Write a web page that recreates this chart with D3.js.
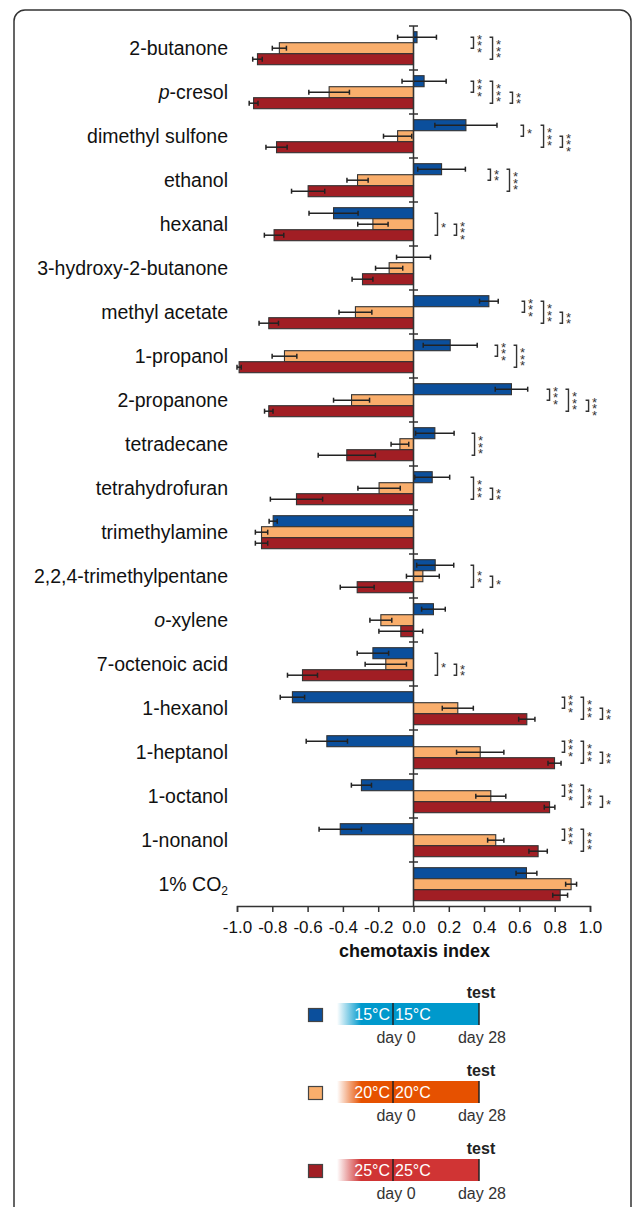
<!DOCTYPE html>
<html>
<head>
<meta charset="utf-8">
<script src="https://cdn.jsdelivr.net/npm/d3@7"></script>
<style>
  body { margin: 0; background: #fff; }
  text { font-family: "Liberation Sans", Arial, sans-serif; }
</style>
</head>
<body>
<div id="chart"></div>
<script>
const CATEGORIES = ['2-butanone', 'p-cresol', 'dimethyl sulfone', 'ethanol', 'hexanal',
                    '3-hydroxy-2-butanone', 'methyl acetate', '1-propanol', '2-propanone',
                    'tetradecane', 'tetrahydrofuran', 'trimethylamine', '2,2,4-trimethylpentane',
                    'o-xylene', '7-octenoic acid', '1-hexanol', '1-heptanol', '1-octanol',
                    '1-nonanol', '1% CO2'];
const SERIES = ['15°C', '20°C', '25°C'];

// chemotaxis index (mean) and error for each temperature
const MEAN_15 = [0.02, 0.06, 0.297, 0.159, -0.453, 0.0, 0.427, 0.208, 0.555, 0.121,
                 0.106, -0.795, 0.123, 0.113, -0.23, -0.686, -0.491, -0.295, -0.415, 0.64];
const ERR_15  = [0.11, 0.125, 0.176, 0.135, 0.139, 0.096, 0.053, 0.153, 0.092, 0.109,
                 0.099, 0.023, 0.105, 0.067, 0.089, 0.069, 0.117, 0.057, 0.12, 0.059];
const MEAN_20 = [-0.76, -0.478, -0.09, -0.317, -0.23, -0.138, -0.329, -0.731, -0.351, -0.077,
                 -0.195, -0.861, 0.053, -0.185, -0.157, 0.251, 0.378, 0.438, 0.466, 0.893];
const ERR_20  = [0.04, 0.115, 0.08, 0.06, 0.086, 0.077, 0.093, 0.07, 0.102, 0.05,
                 0.12, 0.035, 0.093, 0.062, 0.117, 0.088, 0.134, 0.085, 0.046, 0.031];
const MEAN_25 = [-0.884, -0.906, -0.776, -0.597, -0.79, -0.289, -0.82, -0.988, -0.82, -0.378,
                 -0.663, -0.861, -0.319, -0.072, -0.629, 0.642, 0.799, 0.771, 0.706, 0.831];
const ERR_25  = [0.027, 0.025, 0.06, 0.094, 0.055, 0.059, 0.055, 0.012, 0.024, 0.162,
                 0.148, 0.035, 0.096, 0.124, 0.085, 0.046, 0.037, 0.03, 0.052, 0.042];

const X_TICKS = [-1.0, -0.8, -0.6, -0.4, -0.2, 0.0, 0.2, 0.4, 0.6, 0.8, 1.0];

// significance: [category index, series from, series to, bracket position (index units), stars]
const SIGNIFICANCE = [
  [0, 0, 1, 0.34, 3], [0, 0, 2, 0.448, 3],
  [1, 0, 1, 0.34, 3], [1, 0, 2, 0.448, 3], [1, 1, 2, 0.561, 2],
  [2, 0, 1, 0.623, 1], [2, 0, 2, 0.737, 3], [2, 1, 2, 0.844, 3],
  [3, 0, 1, 0.436, 2], [3, 0, 2, 0.544, 3],
  [4, 0, 2, 0.136, 1], [4, 1, 2, 0.244, 3],
  [6, 0, 1, 0.629, 3], [6, 0, 2, 0.737, 3], [6, 1, 2, 0.844, 2],
  [7, 0, 1, 0.476, 3], [7, 0, 2, 0.584, 3],
  [8, 0, 1, 0.771, 3], [8, 0, 2, 0.878, 3], [8, 1, 2, 0.992, 3],
  [9, 0, 2, 0.346, 3],
  [10, 0, 2, 0.34, 3], [10, 1, 2, 0.448, 2],
  [12, 0, 2, 0.34, 2], [12, 1, 2, 0.448, 1],
  [14, 0, 2, 0.136, 1], [14, 1, 2, 0.244, 2],
  [15, 0, 1, 0.856, 3], [15, 0, 2, 0.963, 3], [15, 1, 2, 1.071, 2],
  [16, 0, 1, 0.856, 3], [16, 0, 2, 0.963, 3], [16, 1, 2, 1.071, 2],
  [17, 0, 1, 0.856, 3], [17, 0, 2, 0.963, 3], [17, 1, 2, 1.071, 1],
  [18, 0, 1, 0.856, 3], [18, 0, 2, 0.963, 3]
];

const BAR_COLOURS = ['#0b4f9c', '#f9ae6c', '#a11e24'];
const LEGEND_COLOURS = ['#0099cc', '#e65100', '#d03434'];

var width = 634, height = 1207;
var svg = d3.select('#chart').append('svg')
    .attr('width', width)
    .attr('height', height);

// frame
svg.append('rect')
    .attr('x', 14).attr('y', 10)
    .attr('width', 617).attr('height', 1260)
    .attr('rx', 11)
    .attr('fill', 'none')
    .attr('stroke', '#333')
    .attr('stroke-width', 1.5);

var x = d3.scaleLinear().domain([-1, 1]).range([237, 590]);
var y = d3.scaleBand().domain(CATEGORIES).range([26, 906]);
var ySub = d3.scaleBand().domain(d3.range(3)).range([5.7, 38.7]);

var means = [MEAN_15, MEAN_20, MEAN_25];
var errs = [ERR_15, ERR_20, ERR_25];
var rows = [];
CATEGORIES.forEach(function(c, i) {
  for (var s = 0; s < 3; s++) {
    rows.push({cat: c, s: s, v: means[s][i], e: errs[s][i]});
  }
});

function barCentre(cat, s) {
  return y(cat) + ySub(s) + ySub.bandwidth() / 2;
}

// bars
svg.append('g')
  .selectAll('rect')
  .data(rows)
  .enter()
  .append('rect')
    .attr('x', function(d) { return x(Math.min(0, d.v)); })
    .attr('y', function(d) { return y(d.cat) + ySub(d.s); })
    .attr('width', function(d) { return Math.abs(x(d.v) - x(0)); })
    .attr('height', ySub.bandwidth())
    .attr('fill', function(d) { return BAR_COLOURS[d.s]; })
    .attr('stroke', '#333')
    .attr('stroke-width', 1.1);

// error bars
var eb = svg.append('g').attr('stroke', '#222').attr('stroke-width', 1.5);
rows.forEach(function(d) {
  var cy = barCentre(d.cat, d.s);
  eb.append('line')
    .attr('x1', x(d.v - d.e)).attr('x2', x(d.v + d.e))
    .attr('y1', cy).attr('y2', cy);
  [d.v - d.e, d.v + d.e].forEach(function(v) {
    eb.append('line')
      .attr('x1', x(v)).attr('x2', x(v))
      .attr('y1', cy - 2.5).attr('y2', cy + 2.5);
  });
});

// zero line with category ticks
var zero = svg.append('g').attr('stroke', '#333').attr('stroke-width', 1.5);
zero.append('line')
    .attr('x1', x(0)).attr('x2', x(0))
    .attr('y1', y.range()[0]).attr('y2', y.range()[1]);
zero.selectAll('.ctick')
  .data(CATEGORIES)
  .enter()
  .append('line')
    .attr('x1', x(0) - 4.5).attr('x2', x(0) + 4.5)
    .attr('y1', function(d) { return y(d); })
    .attr('y2', function(d) { return y(d); });

// x axis
var xAxis = svg.append('g')
    .attr('transform', 'translate(0,' + y.range()[1] + ')')
    .call(d3.axisBottom(x).tickValues(X_TICKS).tickSize(6)
          .tickFormat(function(d) { return d.toFixed(1); }));
xAxis.select('.domain').attr('stroke', '#333').attr('stroke-width', 1.5);
xAxis.selectAll('.tick line').attr('stroke', '#333').attr('stroke-width', 1.5);
xAxis.selectAll('.tick text')
    .attr('font-size', 17)
    .attr('fill', '#111')
    .attr('font-family', '"Liberation Sans", Arial, sans-serif')
    .attr('dy', '1.05em');

svg.append('text')
    .attr('x', x(0) + 1)
    .attr('y', 957)
    .attr('text-anchor', 'middle')
    .attr('font-weight', 'bold')
    .attr('font-size', 18)
    .attr('fill', '#111')
    .text('chemotaxis index');

// category labels
var labels = svg.append('g')
  .selectAll('text')
  .data(CATEGORIES)
  .enter()
  .append('text')
    .attr('x', 228)
    .attr('y', function(d) { return y(d) + y.bandwidth() / 2 + 7; })
    .attr('text-anchor', 'end')
    .attr('font-size', 19.5)
    .attr('fill', '#111');
labels.each(function(d) {
  var t = d3.select(this);
  if (d == 'p-cresol' || d == 'o-xylene') {
    t.append('tspan').attr('font-style', 'italic').text(d.charAt(0));
    t.append('tspan').text(d.slice(1));
  } else if (d == '1% CO2') {
    t.append('tspan').text('1% CO');
    t.append('tspan').attr('font-size', 12).attr('dy', 4).text('2');
  } else {
    t.text(d);
  }
});

// significance brackets, stars stacked in one text each
var sig = svg.append('g');
SIGNIFICANCE.forEach(function(b) {
  var cat = CATEGORIES[b[0]];
  var y1 = barCentre(cat, b[1]), y2 = barCentre(cat, b[2]);
  var bx = x(b[3]);
  sig.append('path')
    .attr('d', 'M' + (bx - 3) + ',' + y1 + 'H' + bx + 'V' + y2 + 'H' + (bx - 3))
    .attr('fill', 'none')
    .attr('stroke', '#333')
    .attr('stroke-width', 1.4);
  var mid = (y1 + y2) / 2;
  var t = sig.append('text')
      .attr('text-anchor', 'middle')
      .attr('font-size', 13)
      .attr('fill', '#333');
  for (var k = 0; k < b[4]; k++) {
    var cy = mid + (k - (b[4] - 1) / 2) * 6.5;
    t.append('tspan')
      .attr('x', bx + 6)
      .attr('y', cy + 7.3)
      .text('*');
  }
});

// legend
var defs = svg.append('defs');
var leg = svg.append('g');
SERIES.forEach(function(name, i) {
  var top = 1003 + i * 78;
  var g = leg.append('g');
  var grad = defs.append('linearGradient')
      .attr('id', 'fade' + i)
      .attr('x1', '0%').attr('x2', '100%');
  grad.append('stop').attr('offset', '0%').attr('stop-color', LEGEND_COLOURS[i]).attr('stop-opacity', 0);
  grad.append('stop').attr('offset', '17%').attr('stop-color', LEGEND_COLOURS[i]).attr('stop-opacity', 1);
  grad.append('stop').attr('offset', '100%').attr('stop-color', LEGEND_COLOURS[i]).attr('stop-opacity', 1);

  g.append('rect')
    .attr('x', 308.5).attr('y', top + 5.5)
    .attr('width', 14).attr('height', 13)
    .attr('fill', BAR_COLOURS[i])
    .attr('stroke', '#444').attr('stroke-width', 1.2);
  g.append('rect')
    .attr('x', 337).attr('y', top)
    .attr('width', 142).attr('height', 22)
    .attr('fill', 'url(#fade' + i + ')');
  g.append('line')
    .attr('x1', 393).attr('x2', 393).attr('y1', top).attr('y2', top + 22)
    .attr('stroke', '#222').attr('stroke-width', 1.5);
  g.append('line')
    .attr('x1', 479).attr('x2', 479).attr('y1', top).attr('y2', top + 22)
    .attr('stroke', '#222').attr('stroke-width', 1.5);
  g.append('text')
    .attr('x', 390).attr('y', top + 17)
    .attr('text-anchor', 'end')
    .attr('font-size', 16).attr('fill', '#fff')
    .text(name);
  g.append('text')
    .attr('x', 395).attr('y', top + 17)
    .attr('font-size', 16).attr('fill', '#fff')
    .text(name);
  g.append('text')
    .attr('x', 396).attr('y', top + 40)
    .attr('text-anchor', 'middle')
    .attr('font-size', 16).attr('fill', '#333')
    .text('day 0');
  g.append('text')
    .attr('x', 482).attr('y', top + 40)
    .attr('text-anchor', 'middle')
    .attr('font-size', 16).attr('fill', '#333')
    .text('day 28');
  g.append('text')
    .attr('x', 481).attr('y', top - 5)
    .attr('text-anchor', 'middle')
    .attr('font-size', 16).attr('font-weight', 'bold').attr('fill', '#222')
    .text('test');
});
</script>
</body>
</html>
